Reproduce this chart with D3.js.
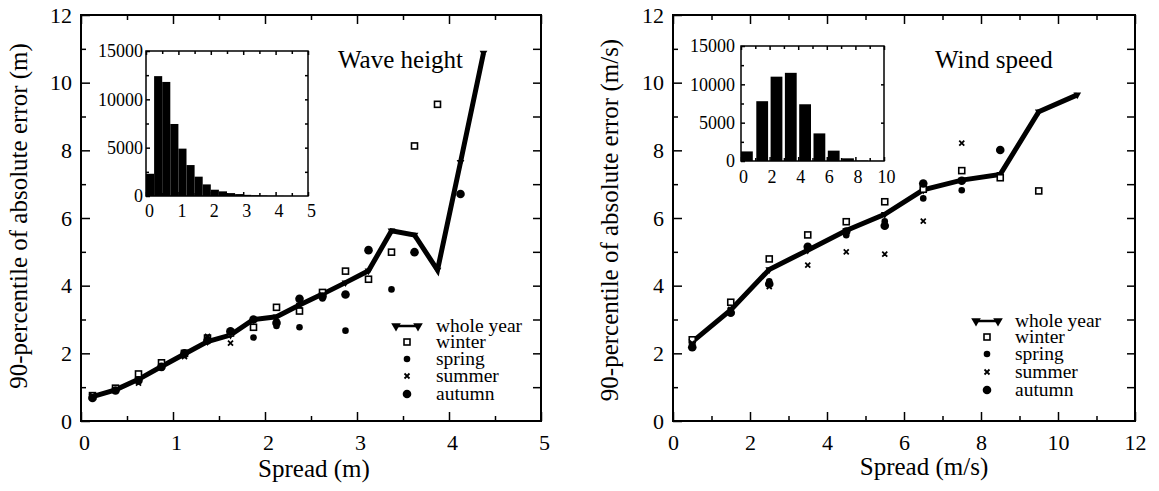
<!DOCTYPE html>
<html>
<head>
<meta charset="utf-8">
<script src="https://cdn.jsdelivr.net/npm/d3@7"></script>
<style>
  body { margin: 0; background: #fff; }
  svg, svg text { font-family: "Liberation Serif", "DejaVu Serif", serif; }
  svg { display: block; }
</style>
</head>
<body>
<svg id="chart" width="1159" height="491" font-family="Liberation Serif, DejaVu Serif, serif"></svg>
<script>
// wave height panel (spread in m)
const waveSpread = [0.125, 0.375, 0.625, 0.875, 1.125, 1.375, 1.625, 1.875, 2.125, 2.375, 2.625, 2.875, 3.125, 3.375, 3.625, 3.875, 4.125, 4.375]
const waveWhole  = [0.72, 0.92, 1.23, 1.61, 1.98, 2.35, 2.54, 3.0, 3.08, 3.43, 3.75, 4.09, 4.44, 5.62, 5.50, 4.46, 7.65, 10.88]
const waveWinter = [0.75, 0.97, 1.39, 1.72, 2.0, 2.45, 2.6, 2.77, 3.36, 3.25, 3.8, 4.43, 4.19, 4.99, 8.13, 9.36, null, null]
const waveSpring = [0.7, 0.9, 1.18, 1.62, 1.95, 2.42, 2.62, 2.47, 2.81, 2.77, 3.62, 2.67, null, 3.89, null, null, null, null]
const waveSummer = [0.75, 0.88, 1.12, 1.58, 1.9, 2.5, 2.3, 3.0, 3.05, 3.4, 3.72, null, null, null, null, null, null, null]
const waveAutumn = [0.68, 0.9, 1.2, 1.6, 2.0, 2.38, 2.65, 3.0, 2.9, 3.61, 3.68, 3.74, 5.05, null, 4.99, null, 6.71, null]
const waveHistStart = [0, 0.25, 0.5, 0.75, 1.0, 1.25, 1.5, 1.75, 2.0, 2.25, 2.5, 2.75, 3.0, 3.25, 3.5, 3.75, 4.0, 4.25]
const waveHistCount = [2300, 12400, 11800, 7450, 4900, 3200, 2000, 1200, 650, 480, 300, 200, 120, 80, 50, 30, 20, 10]

// wind speed panel (spread in m/s)
const windSpread = [0.5, 1.5, 2.5, 3.5, 4.5, 5.5, 6.5, 7.5, 8.5, 9.5, 10.5]
const windWhole  = [2.34, 3.28, 4.48, 5.05, 5.63, 6.11, 6.83, 7.12, 7.29, 9.14, 9.64]
const windWinter = [2.4, 3.51, 4.79, 5.5, 5.89, 6.48, 6.85, 7.4, 7.19, 6.8, null]
const windSpring = [2.25, 3.25, 4.13, 5.1, 5.49, 5.9, 6.58, 6.82, null, null, null]
const windSummer = [2.3, 3.3, 3.97, 4.61, 5.0, 4.93, 5.91, 8.21, null, null, null]
const windAutumn = [2.18, 3.2, 4.05, 5.15, 5.6, 5.77, 7.02, 7.1, 8.01, null, null]
const windHistStart = [0, 1, 2, 3, 4, 5, 6, 7, 8, 9]
const windHistCount = [1250, 7800, 11000, 11500, 7400, 3600, 1350, 350, 60, 20]

const seasonNames = ['whole year', 'winter', 'spring', 'summer', 'autumn']
const yLabelText = '90-percentile of absolute error'

const FONT = '"Liberation Serif", "DejaVu Serif", serif'
const svg = d3.select('#chart')
svg.append('rect').attr('width', 1159).attr('height', 491).attr('fill', '#fff')

function styleAxis(g, fontSize) {
  g.attr('font-family', FONT).attr('font-size', fontSize)
  g.select('.domain').remove()
  g.selectAll('line').attr('stroke', '#000').attr('stroke-width', 1.5)
  g.selectAll('text').attr('fill', '#000').style('font-family', FONT)
}

function frameAxes(g, x, y, o) {
  const fs = o.fontSize
  const bottom = g.append('g').attr('transform', `translate(0,${o.bottom})`)
    .call(d3.axisBottom(x).tickValues(o.xMajor).tickSize(-o.major).tickPadding(o.xPad).tickFormat(d3.format('d')))
  styleAxis(bottom, fs)
  bottom.selectAll('text').attr('dx', o.xShift)
  styleAxis(g.append('g').attr('transform', `translate(0,${o.bottom})`)
    .call(d3.axisBottom(x).tickValues(o.xMinor).tickSize(-o.minor).tickFormat('')), fs)
  styleAxis(g.append('g').attr('transform', `translate(0,${o.top})`)
    .call(d3.axisTop(x).tickValues(o.xMajor).tickSize(-o.major).tickFormat('')), fs)
  styleAxis(g.append('g').attr('transform', `translate(0,${o.top})`)
    .call(d3.axisTop(x).tickValues(o.xMinor).tickSize(-o.minor).tickFormat('')), fs)
  styleAxis(g.append('g').attr('transform', `translate(${o.left},0)`)
    .call(d3.axisLeft(y).tickValues(o.yMajor).tickSize(-o.major).tickPadding(o.yPad).tickFormat(d3.format('d'))), fs)
  styleAxis(g.append('g').attr('transform', `translate(${o.left},0)`)
    .call(d3.axisLeft(y).tickValues(o.yMinor).tickSize(-o.minor).tickFormat('')), fs)
  styleAxis(g.append('g').attr('transform', `translate(${o.right},0)`)
    .call(d3.axisRight(y).tickValues(o.yRight).tickSize(-o.rightSize).tickFormat('')), fs)
  g.append('rect')
    .attr('x', o.left).attr('y', o.top)
    .attr('width', o.right - o.left).attr('height', o.bottom - o.top)
    .attr('fill', 'none').attr('stroke', '#000').attr('stroke-width', o.frameWidth)
}

function drawMarker(g, kind, cx, cy) {
  if (kind === 'winter') {
    g.append('rect').attr('x', cx - 3).attr('y', cy - 3).attr('width', 6).attr('height', 6)
      .attr('fill', '#fff').attr('stroke', '#000').attr('stroke-width', 1.6)
  } else if (kind === 'spring') {
    g.append('circle').attr('cx', cx).attr('cy', cy).attr('r', 3.3).attr('fill', '#000')
  } else if (kind === 'summer') {
    g.append('path').attr('d', `M${cx - 2.5},${cy - 2.5}L${cx + 2.5},${cy + 2.5}M${cx - 2.5},${cy + 2.5}L${cx + 2.5},${cy - 2.5}`)
      .attr('stroke', '#000').attr('stroke-width', 1.8)
  } else if (kind === 'autumn') {
    g.append('circle').attr('cx', cx).attr('cy', cy).attr('r', 4.3).attr('fill', '#000')
  }
}

const triangle = d3.symbol().type(d3.symbolTriangle).size(26)
const legendTriangle = d3.symbol().type(d3.symbolTriangle).size(40)

function addText(g, x, y, size, txt) {
  return g.append('text').attr('x', x).attr('y', y).attr('font-size', size)
    .attr('fill', '#000').style('font-family', FONT).text(txt)
}

function drawPanel(p) {
  const g = svg.append('g')
  const x = d3.scaleLinear().domain([0, p.xMax]).range([p.left, p.right])
  const y = d3.scaleLinear().domain([0, 12]).range([p.bottom, p.top])

  frameAxes(g, x, y, {
    left: p.left, right: p.right, top: p.top, bottom: p.bottom, fontSize: 22,
    xMajor: p.xMajor, xMinor: p.xMinor, xPad: 13, xShift: p.xShift,
    yMajor: [0, 2, 4, 6, 8, 10, 12], yMinor: [1, 3, 5, 7, 9, 11], yPad: 9,
    yRight: d3.range(1, 12), major: 9, minor: 5, rightSize: 8, frameWidth: 2
  })

  // inset histogram
  const ix = d3.scaleLinear().domain([0, p.inset.xMax]).range([p.inset.left, p.inset.right])
  const iy = d3.scaleLinear().domain([0, 15000]).range([p.inset.bottom, p.inset.top])
  const ig = g.append('g')
  ig.append('rect').attr('x', p.inset.left).attr('y', p.inset.top)
    .attr('width', p.inset.right - p.inset.left).attr('height', p.inset.bottom - p.inset.top).attr('fill', '#fff')
  ig.selectAll('rect.bar').data(p.histStart).enter().append('rect').attr('class', 'bar')
    .attr('x', (d, i) => ix(d) + (i > 0 ? p.inset.gapL : 0))
    .attr('width', d => Math.max(0.5, ix(d + p.histWidth) - ix(d) - p.inset.gapL - p.inset.gapR))
    .attr('y', (d, i) => iy(p.histCount[i]))
    .attr('height', (d, i) => p.inset.bottom - iy(p.histCount[i]))
    .attr('fill', '#000')
  frameAxes(ig, ix, iy, {
    left: p.inset.left, right: p.inset.right, top: p.inset.top, bottom: p.inset.bottom, fontSize: 18,
    xMajor: p.inset.xMajor, xMinor: p.inset.xMinor, xPad: p.inset.xPad, xShift: p.inset.xShift,
    yMajor: [0, 5000, 10000, 15000], yMinor: [2500, 7500, 12500], yPad: p.inset.yPad,
    yRight: p.inset.yRight, major: 4, minor: 3, rightSize: 3, frameWidth: 1.5
  })

  // whole year line
  const pts = p.spread.map((s, i) => ({ s, v: p.whole[i] }))
  g.append('path').datum(pts)
    .attr('d', d3.line().x(d => x(d.s)).y(d => y(d.v)))
    .attr('fill', 'none').attr('stroke', '#000').attr('stroke-width', 5).attr('stroke-linejoin', 'miter')
  g.selectAll('path.tri').data(pts).enter().append('path').attr('class', 'tri')
    .attr('d', triangle).attr('transform', d => `translate(${x(d.s)},${y(d.v)}) rotate(180)`).attr('fill', '#000')

  // seasons
  const seasons = [['winter', p.winter], ['spring', p.spring], ['summer', p.summer], ['autumn', p.autumn]]
  seasons.forEach(([kind, vals]) => {
    vals.forEach((v, i) => { if (v != null) drawMarker(g, kind, x(p.spread[i]), y(v)) })
  })

  // title
  addText(g, p.titleX, p.titleY, 25, p.title)

  // legend
  seasonNames.forEach((name, i) => {
    const ly = p.legendY[i]
    if (i === 0) {
      g.append('line').attr('x1', p.legendX - 11).attr('x2', p.legendX + 11).attr('y1', ly).attr('y2', ly)
        .attr('stroke', '#000').attr('stroke-width', 2.5)
      ;[p.legendX - 11, p.legendX + 11].forEach(tx => {
        g.append('path').attr('d', legendTriangle).attr('transform', `translate(${tx},${ly}) rotate(180)`).attr('fill', '#000')
      })
    } else {
      drawMarker(g, name, p.legendX, ly)
    }
    addText(g, p.legendTextX, ly + 6, 19.5, name)
  })

  // axis labels
  addText(g, p.xLabelX, p.xLabelY, 25, p.xLabel).attr('text-anchor', 'middle')
  addText(g, 0, 0, 25, `${yLabelText} ${p.yUnit}`)
    .attr('transform', `translate(${p.yLabelX},${p.yLabelY}) rotate(-90)`).attr('text-anchor', 'middle')
}

drawPanel({
  left: 81, right: 541, top: 15, bottom: 421, xMax: 5, xShift: 3,
  xMajor: [0, 1, 2, 3, 4, 5], xMinor: [0.5, 1.5, 2.5, 3.5, 4.5],
  spread: waveSpread, whole: waveWhole, winter: waveWinter, spring: waveSpring, summer: waveSummer, autumn: waveAutumn,
  histStart: waveHistStart, histCount: waveHistCount, histWidth: 0.25,
  inset: {
    left: 146, right: 308, top: 51, bottom: 196, xMax: 5, xShift: 3, xPad: 8, yPad: 3, gapL: 0, gapR: 0,
    xMajor: [0, 1, 2, 3, 4, 5], xMinor: [0.5, 1.5, 2.5, 3.5, 4.5], yRight: [2500, 5000, 7500, 10000, 12500]
  },
  title: 'Wave height', titleX: 338, titleY: 68,
  legendX: 407, legendTextX: 436, legendY: [326, 342, 359, 376, 394],
  xLabel: 'Spread (m)', xLabelX: 314, xLabelY: 477,
  yUnit: '(m)', yLabelX: 27, yLabelY: 216
})

drawPanel({
  left: 673, right: 1135, top: 15, bottom: 421, xMax: 12, xShift: 0,
  xMajor: [0, 2, 4, 6, 8, 10, 12], xMinor: [1, 3, 5, 7, 9, 11],
  spread: windSpread, whole: windWhole, winter: windWinter, spring: windSpring, summer: windSummer, autumn: windAutumn,
  histStart: windHistStart, histCount: windHistCount, histWidth: 1,
  inset: {
    left: 741, right: 884, top: 46, bottom: 161, xMax: 10, xShift: 2, xPad: 9, yPad: 6, gapL: 1, gapR: 1.5,
    xMajor: [0, 2, 4, 6, 8, 10], xMinor: [1, 3, 5, 7, 9], yRight: [5000, 10000]
  },
  title: 'Wind speed', titleX: 935, titleY: 68,
  legendX: 987, legendTextX: 1015, legendY: [321, 337, 354, 372, 390],
  xLabel: 'Spread (m/s)', xLabelX: 924, xLabelY: 475,
  yUnit: '(m/s)', yLabelX: 618, yLabelY: 220
})
</script>
</body>
</html>
